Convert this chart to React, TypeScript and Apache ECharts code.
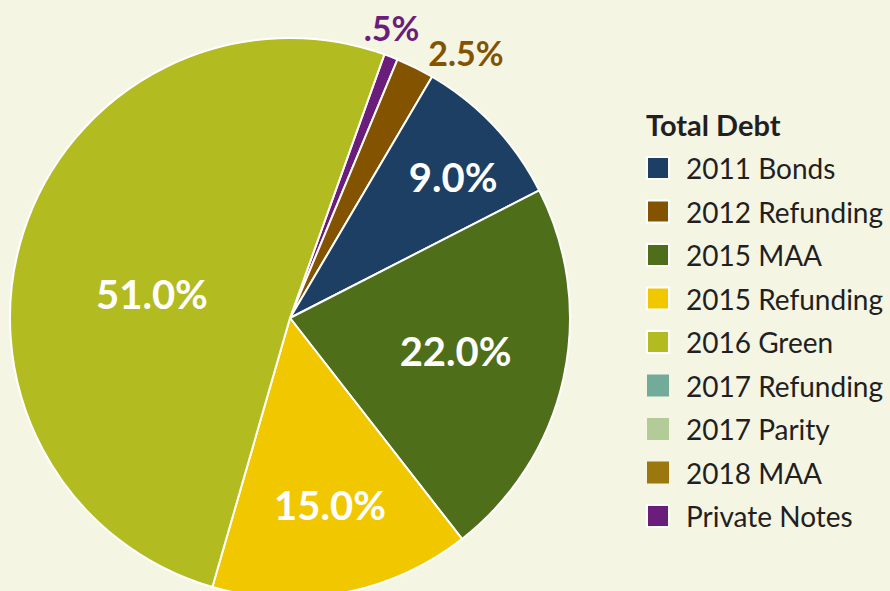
import React, { useEffect, useRef } from "react";
import * as echarts from "echarts";

const categories = [
  "Private Notes",
  "2012 Refunding",
  "2011 Bonds",
  "2015 MAA",
  "2015 Refunding",
  "2016 Green",
  "2017 Refunding",
  "2017 Parity",
  "2018 MAA",
];
// slice sizes as drawn in the picture
const values = [0.8, 2.2, 9.0, 22.0, 15.0, 51.0, 0, 0, 0];
const labelTexts = [".5%", "2.5%", "9.0%", "22.0%", "15.0%", "51.0%", "", "", ""];
const legendOrder = [
  "2011 Bonds",
  "2012 Refunding",
  "2015 MAA",
  "2015 Refunding",
  "2016 Green",
  "2017 Refunding",
  "2017 Parity",
  "2018 MAA",
  "Private Notes",
];
const sliceColors = [
  "#6b1d7b",
  "#845300",
  "#1c3f63",
  "#4e6e1a",
  "#f1c800",
  "#b2bb1f",
  "#72ab9a",
  "#b3cc97",
  "#9a780e",
];
// label styling: offsets relative to the default inside position
const labelOffsets = [
  [50, -157],
  [112, -138],
  [59, -43],
  [26, 2],
  [13, 47],
  [-2, 20],
  [0, 0],
  [0, 0],
  [0, 0],
];
const outsideLabel = [true, true, false, false, false, false, false, false, false];

export default function App() {
  const ref = useRef<HTMLDivElement>(null);
  useEffect(() => {
    if (!ref.current) return;
    const chart = echarts.init(ref.current, null, { renderer: "svg" });
    const data = categories.map((name, i) => ({
      name,
      value: values[i],
      itemStyle: {
        color: sliceColors[i],
        borderWidth: values[i] > 0 ? 2 : 0,
      },
      label: {
        show: values[i] > 0,
        position: "inside",
        formatter: labelTexts[i],
        offset: labelOffsets[i],
        color: outsideLabel[i] ? sliceColors[i] : "#ffffff",
        fontSize: outsideLabel[i] ? 34 : 40,
        fontWeight: "bold",
        fontFamily: "Lato",
      },
    }));
    chart.setOption({
      animation: false,
      backgroundColor: "#f5f5e4",
      title: {
        text: "Total Debt",
        left: 646,
        top: 110,
        padding: 0,
        textStyle: {
          fontFamily: "Lato",
          fontWeight: "bold",
          fontSize: 29,
          color: "#231f20",
        },
      },
      legend: {
        data: legendOrder,
        orient: "vertical",
        left: 646,
        top: 154,
        padding: 0,
        itemWidth: 22,
        itemHeight: 22,
        itemGap: 15.5,
        icon: "rect",
        selectedMode: false,
        textStyle: {
          fontFamily: "Lato",
          fontSize: 28,
          color: "#231f20",
          padding: [0, 0, 0, 12],
        },
      },
      series: [
        {
          type: "pie",
          center: [290, 318],
          radius: 280,
          startAngle: 70.3,
          clockwise: true,
          avoidLabelOverlap: false,
          stillShowZeroSum: true,
          labelLine: { show: false },
          itemStyle: { borderColor: "#ffffff", borderWidth: 2 },
          emphasis: { disabled: true },
          data,
        },
      ],
    });
    return () => chart.dispose();
  }, []);
  return (
    <div
      ref={ref}
      style={{ position: "fixed", left: 0, top: 0, width: 890, height: 591 }}
    />
  );
}
